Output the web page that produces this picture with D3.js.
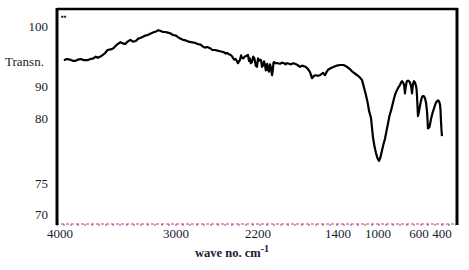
<!DOCTYPE html>
<html><head><meta charset="utf-8">
<script src="https://cdn.jsdelivr.net/npm/d3@7"></script>
<style>body{margin:0;background:#fff}svg{display:block}</style>
</head><body>
<svg id="c" width="469" height="270"></svg>
<script>
// wavenumber (cm-1)
const waveNumbers = [3950,3925,3900,3875,3850,3830,3807,3780,3750,3725,3700,3680,3664,3640,3620,3600,3580,3555,3530,3500,3471,3450,3430,3410,3387,3365,3340,3320,3303,3280,3260,3240,3218,3195,3170,3150,3134,3110,3090,3070,3050,3025,3000,2970,2932,2905,2880,2850,2815,2790,2760,2740,2720,2695,2668,2645,2620,2595,2571,2550,2530,2515,2502,2485,2470,2455,2444,2432,2420,2407,2395,2385,2375,2365,2356,2343,2330,2315,2298,2288,2280,2270,2259,2247,2235,2222,2210,2200,2190,2180,2170,2160,2150,2140,2130,2122,2115,2108,2100,2090,2080,2070,2060,2052,2045,2038,2030,2005,1980,1960,1940,1925,1910,1890,1870,1850,1830,1805,1780,1760,1740,1725,1710,1695,1680,1670,1660,1640,1620,1600,1580,1565,1550,1540,1530,1515,1500,1470,1440,1410,1380,1345,1310,1280,1250,1225,1200,1180,1160,1140,1120,1105,1090,1070,1050,1035,1020,1005,990,975,961,946,932,917,902,888,873,858,844,830,815,800,785,775,766,756,746,741,737,732,727,722,717,707,698,688,678,673,668,663,659,654,649,639,629,624,620,615,610,600,591,582,574,565,557,548,539,530,522,509,496,483,470,461,452,443,435,426,417,413,409,404,400];
// transmittance values
const transmittance = [94.3,94.5,94.4,94.2,94.2,94.4,94.5,94.3,94.3,94.5,94.6,94.9,94.7,94.9,95.2,95.5,96.0,96.1,96.3,96.9,97.3,97.1,97.0,97.4,97.7,97.4,97.5,97.9,98.0,98.2,98.4,98.5,98.7,98.9,99.1,99.3,99.2,99.0,99.0,98.9,98.8,98.5,98.4,98.0,97.7,97.6,97.4,97.3,97.2,97.0,96.9,96.6,96.4,96.5,96.3,96.0,96.0,95.9,95.8,95.7,95.6,95.4,95.5,95.3,95.2,95.0,94.7,94.4,94.5,94.2,93.8,94.1,94.4,95.1,94.7,94.6,94.9,95.0,95.2,94.2,94.6,93.8,94.0,94.9,94.6,93.4,93.2,94.6,94.2,94.4,94.3,93.2,93.4,94.1,93.5,92.6,92.9,93.7,92.7,92.4,93.6,93.0,91.8,92.6,93.9,94.0,93.8,93.8,93.7,93.9,93.8,93.6,93.8,93.7,93.6,93.8,93.7,93.5,93.2,93.4,93.3,93.2,93.0,92.7,92.3,91.8,91.3,91.7,91.8,91.7,91.8,92.0,92.2,92.0,91.8,92.3,92.7,93.0,93.2,93.4,93.5,93.5,93.2,92.8,92.3,92.0,91.7,91.4,91.0,89.5,87.1,85.0,82.3,80.0,78.5,77.8,77.3,76.9,76.7,77.0,77.5,78.0,78.4,79.0,79.6,80.7,82.3,84.2,86.1,87.6,88.7,89.6,90.2,90.6,90.8,90.6,90.2,89.0,87.7,89.2,90.0,90.6,90.8,90.9,90.8,90.6,90.0,89.0,87.7,89.3,90.2,90.6,90.8,90.6,90.0,89.0,87.1,84.0,80.6,82.0,83.9,85.5,86.5,86.9,86.8,86.2,84.8,82.0,79.2,79.3,79.9,81.5,82.9,84.0,84.8,85.3,85.5,85.2,84.2,82.5,79.8,79.0,78.6];
// axis tick labels
const xTicks = [4000,3000,2200,1400,1000,600,400];
const yTicks = [100,90,80,75,70];

const svg = d3.select("#c");
const x = d3.scaleLinear().domain([4000,3000,2200,1400,1000,600,400]).range([58,176,258,338,378,419,442]);
const y = d3.scaleLinear().domain([70,75,80,90,100]).range([214,183,118,86,26]);

const serif = "'Liberation Serif','DejaVu Serif',serif";

// frame
svg.append("line").attr("x1",57).attr("x2",458).attr("y1",9).attr("y2",9).attr("stroke","#000").attr("stroke-width",2.5);
svg.append("line").attr("x1",457).attr("x2",457).attr("y1",8).attr("y2",225).attr("stroke","#000").attr("stroke-width",3);
svg.append("line").attr("x1",56).attr("x2",456).attr("y1",224).attr("y2",224).attr("stroke","#e33").attr("stroke-width",1.2).attr("stroke-dasharray","3,2");
svg.append("line").attr("x1",56).attr("x2",456).attr("y1",225).attr("y2",225).attr("stroke","#33c").attr("stroke-width",0.8).attr("stroke-dasharray","2,5");
svg.append("line").attr("x1",57).attr("x2",57).attr("y1",8).attr("y2",225).attr("stroke","#000").attr("stroke-width",3);
svg.append("text").attr("x",61).attr("y",19).attr("font-family",serif).attr("font-size",8).attr("fill","#113").text("▪▪");

// y ticks
svg.append("g").selectAll("text").data(yTicks).join("text")
  .attr("x",48).attr("y",d=>y(d)+4.5).attr("text-anchor","end")
  .attr("font-family",serif).attr("font-size",13).attr("fill","#1a1a30")
  .text(d=>d);
svg.append("text").attr("x",5).attr("y",66).attr("font-family",serif).attr("font-size",13).attr("fill","#1a1a30").text("Transn.");

// x ticks
svg.append("g").selectAll("text").data(xTicks).join("text")
  .attr("x",d=>x(d)+ (d===4000?2:0)).attr("y",238).attr("text-anchor","middle")
  .attr("font-family",serif).attr("font-size",13).attr("fill","#1a1a30")
  .text(d=>d);
const t = svg.append("text").attr("x",232).attr("y",257).attr("text-anchor","middle")
  .attr("font-family",serif).attr("font-size",12.5).attr("font-weight","bold").attr("fill","#1a1a30");
t.append("tspan").text("wave no. cm");
t.append("tspan").attr("dy",-5).attr("font-size",10).text("-1");

// spectrum
const pts = waveNumbers.map((w,i)=>[w,transmittance[i]]);
svg.append("path").datum(pts)
  .attr("fill","none").attr("stroke","#000").attr("stroke-width",2.2).attr("stroke-linejoin","round")
  .attr("d", d3.line().x(d=>x(d[0])).y(d=>y(d[1])));
</script>
</body></html>
